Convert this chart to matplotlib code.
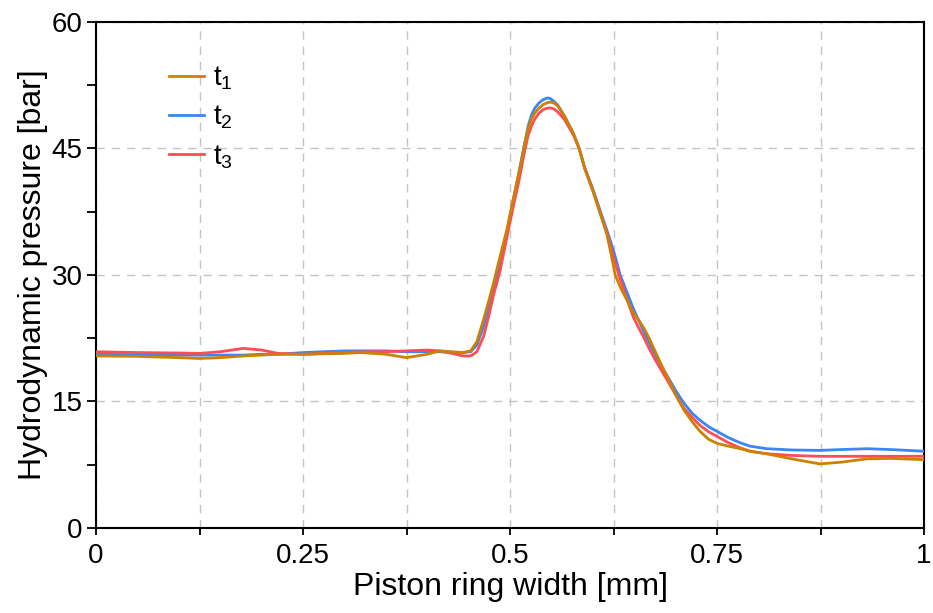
import matplotlib
matplotlib.use("Agg")
import matplotlib.pyplot as plt
from matplotlib.ticker import MultipleLocator, FixedLocator

plt.rcParams['font.family'] = ['Liberation Sans', 'DejaVu Sans']
plt.rcParams['mathtext.fontset'] = 'custom'
plt.rcParams['mathtext.rm'] = 'Liberation Sans'
plt.rcParams['mathtext.default'] = 'regular'

x = [0, 0.05, 0.1, 0.125, 0.15, 0.178, 0.2, 0.22, 0.25, 0.3, 0.32, 0.35, 0.375, 0.4, 0.415,
     0.43, 0.443, 0.4525, 0.46, 0.468, 0.474, 0.48, 0.488, 0.496, 0.505, 0.51, 0.514, 0.517,
     0.522, 0.526, 0.53, 0.535, 0.54, 0.5455, 0.549, 0.553, 0.558, 0.566, 0.5765, 0.5835,
     0.59, 0.6, 0.61, 0.617, 0.622, 0.627, 0.633, 0.637, 0.643, 0.649, 0.655, 0.661, 0.668,
     0.675, 0.684, 0.693, 0.70, 0.71, 0.72, 0.729, 0.74, 0.751, 0.764, 0.778, 0.79, 0.81,
     0.84, 0.874, 0.9, 0.931, 0.96, 1.0]

t1 = [20.4, 20.35, 20.2, 20.1, 20.2, 20.4, 20.5, 20.6, 20.6, 20.7, 20.8, 20.6, 20.2, 20.6, 21.0,
      20.9, 20.8, 21.0, 22.1, 24.7, 26.8, 29.0, 32.2, 35.3, 39.5, 41.8, 43.6, 45.2,
      47.4, 48.5, 49.2, 49.8, 50.2, 50.45, 50.5, 50.4, 50.0, 48.8, 46.8, 45.0,
      42.7, 40.0, 37.0, 34.8, 32.5, 30.0, 28.6, 27.8, 26.7, 25.5, 24.7, 23.8, 22.5,
      21.0, 19.1, 17.3, 15.8, 14.0, 12.6, 11.5, 10.5, 10.0, 9.7, 9.4, 9.1, 8.8,
      8.2, 7.6, 7.8, 8.2, 8.25, 8.1]

t2 = [20.6, 20.55, 20.5, 20.5, 20.5, 20.5, 20.6, 20.6, 20.8, 21.0, 21.0, 21.0, 20.9, 20.9, 20.9,
      20.8, 20.8, 20.9, 21.7, 23.9, 26.0, 28.2, 31.6, 35.0, 39.4, 41.8, 43.8, 45.3,
      47.7, 49.0, 49.8, 50.4, 50.8, 51.0, 50.9, 50.6, 50.1, 48.8, 46.8, 45.0,
      42.8, 40.2, 37.3, 35.3, 33.8, 32.2, 30.0, 29.0, 27.5, 26.0, 24.7, 23.4, 22.0,
      20.6, 19.0, 17.5, 16.3, 14.8, 13.6, 12.8, 12.0, 11.4, 10.7, 10.1, 9.7, 9.4,
      9.25, 9.2, 9.3, 9.4, 9.3, 9.1]

t3 = [20.9, 20.8, 20.75, 20.7, 20.9, 21.3, 21.1, 20.7, 20.6, 20.8, 20.9, 20.9, 21.0, 21.1, 21.0,
      20.7, 20.4, 20.4, 20.9, 22.7, 25.0, 27.6, 30.5, 34.4, 38.6, 40.8, 42.8, 44.4,
      46.6, 47.7, 48.5, 49.2, 49.6, 49.8, 49.8, 49.7, 49.3, 48.4, 46.6, 45.0,
      42.7, 40.0, 37.0, 35.0, 33.2, 31.4, 29.5, 28.4, 26.6, 25.0, 23.8, 22.7, 21.3,
      20.0, 18.5, 17.0, 15.8, 14.2, 13.1, 12.2, 11.4, 10.8, 10.1, 9.5, 9.1, 8.8,
      8.6, 8.5, 8.5, 8.5, 8.5, 8.5]

labels = ['t$_{1}$', 't$_{2}$', 't$_{3}$']
colors = ['#CC8200', '#3A86F5', '#FF4C55']

x_major = [0, 0.25, 0.5, 0.75, 1]
x_major_labels = ['0', '0.25', '0.5', '0.75', '1']
y_major = [0, 15, 30, 45, 60]

fig = plt.figure(figsize=(9.33, 6.13), dpi=100)
ax = fig.add_axes([0.1029, 0.1387, 0.8875, 0.8254])

l2, = ax.plot(x, t2, color=colors[1], lw=2.0, label=labels[1], zorder=3)
l3, = ax.plot(x, t3, color=colors[2], lw=2.0, label=labels[2], zorder=3)
l1, = ax.plot(x, t1, color=colors[0], lw=2.0, label=labels[0], zorder=4)
for ln in (l1, l2, l3):
    ln.set_solid_joinstyle('round')

ax.set_xlim(0, 1)
ax.set_ylim(0, 60)
ax.xaxis.set_major_locator(FixedLocator(x_major))
ax.set_xticklabels(x_major_labels)
ax.xaxis.set_minor_locator(MultipleLocator(0.125))
ax.yaxis.set_major_locator(FixedLocator(y_major))
ax.yaxis.set_minor_locator(MultipleLocator(7.5))

ax.grid(True, which='major', axis='y', color='#c4c4c4', ls=(0, (6, 5)), lw=1.0)
ax.grid(True, which='both', axis='x', color='#c4c4c4', ls=(0, (6, 5)), lw=1.0)
ax.set_axisbelow(True)

ax.tick_params(axis='y', which='both', direction='out', length=6.5, width=1.3,
               labelsize=20, pad=3)
ax.tick_params(axis='x', which='both', direction='out', length=5, width=1.3,
               labelsize=20, pad=6)
for s in ax.spines.values():
    s.set_linewidth(1.5)

ax.set_xlabel('Piston ring width [mm]', fontsize=23, labelpad=2)
ax.set_ylabel('Hydrodynamic pressure [bar]', fontsize=23, labelpad=3)

leg = ax.legend([l1, l2, l3], labels, loc='upper left',
                bbox_to_anchor=(0.058, 0.965), frameon=False, fontsize=20,
                handlelength=1.26, labelspacing=0.42, handletextpad=0.32)

fig.savefig('out.png', dpi=100)
